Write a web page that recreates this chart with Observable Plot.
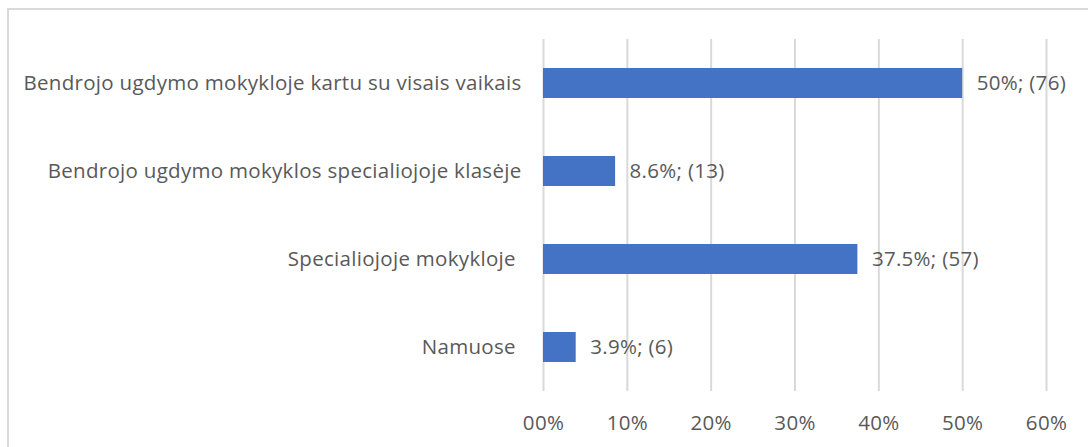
<!DOCTYPE html>
<html><head><meta charset="utf-8">
<script src="https://cdn.jsdelivr.net/npm/d3@7"></script>
<script src="https://cdn.jsdelivr.net/npm/@observablehq/plot@0.6"></script>
<style>
html,body{margin:0;padding:0;background:#fff;overflow:hidden;}
#wrap{position:relative;width:1088px;height:447px;}
#frame{position:absolute;left:7px;top:8px;width:1200px;height:600px;border:2px solid #d9d9d9;box-sizing:border-box;pointer-events:none;}
svg text{white-space:pre;letter-spacing:0.3px;}
</style></head>
<body><div id="wrap"><div id="frame"></div><div id="chart"></div></div>
<script>
const categories = [
  "Bendrojo ugdymo mokykloje kartu su visais vaikais",
  "Bendrojo ugdymo mokyklos specialiojoje klasėje",
  "Specialiojoje mokykloje ",
  "Namuose "
];
const percents = [50, 8.6, 37.5, 3.9];
const counts = [76, 13, 57, 6];
const tickValues = [0, 10, 20, 30, 40, 50, 60];
const tickLabels = ["00%", "10%", "20%", "30%", "40%", "50%", "60%"];

const data = categories.map((c, i) => ({cat: c, pct: percents[i], n: counts[i], label: `${percents[i]}%; (${counts[i]})`}));
const font = "'Open Sans', Lato, sans-serif";

const chart = Plot.plot({
  width: 1088,
  height: 447,
  marginLeft: 543,
  marginRight: 42,
  marginTop: 39,
  marginBottom: 56,
  style: {fontFamily: font, fontSize: "20.5px", color: "#595959", background: "transparent"},
  x: {domain: [0, 60], ticks: tickValues, tickFormat: (d) => tickLabels[tickValues.indexOf(d)], tickSize: 0, tickPadding: 24, label: null},
  y: {domain: categories, paddingInner: 0.66, paddingOuter: 0.33, label: null, tickSize: 0, tickPadding: 22},
  marks: [
    Plot.ruleX(tickValues, {stroke: "#d9d9d9", strokeWidth: 2}),
    Plot.barX(data, {x: "pct", y: "cat", fill: "#4472C4"}),
    Plot.text(data, {x: "pct", y: "cat", text: "label", textAnchor: "start", dx: 14, fill: "#595959", fontSize: 20.5})
  ]
});
document.getElementById("chart").appendChild(chart);
</script></body></html>
